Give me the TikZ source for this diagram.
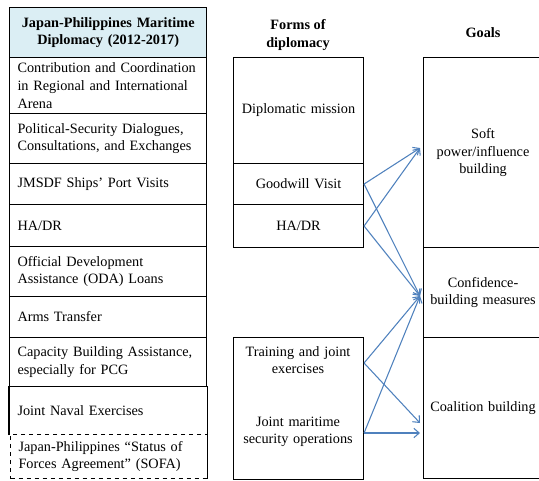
\documentclass[tikz,border=0pt]{standalone}
\usepackage{fontspec}
\setmainfont{Liberation Serif}
\usepackage{tikz}
\usetikzlibrary{calc,arrows.meta}

\definecolor{headblue}{RGB}{219,238,244}
\definecolor{arrowblue}{RGB}{79,129,189}
\newcommand{\px}{0.75pt}
\newcommand{\tabfont}{\fontsize{10.7}{13.2}\selectfont}

\tikzset{
  lcell/.style={draw, anchor=north west, minimum width=197*\px, text width=136pt,
    inner xsep=6pt, inner ysep=0pt, align=left, font=\tabfont},
  mcell/.style={draw, anchor=north west, minimum width=130*\px, text width=90pt,
    inner sep=0pt, align=center, font=\tabfont},
  gcell/.style={draw, anchor=north west, minimum width=119*\px, text width=84pt,
    inner sep=0pt, align=center, font=\tabfont},
  head/.style={align=center, font=\tabfont\bfseries, inner sep=0pt},
  link/.style={-{Straight Barb[length=4pt,width=7pt]}, draw=arrowblue, line width=0.8pt}
}

\begin{document}
\begin{tikzpicture}[x=\px, y=-\px, line width=0.8pt]
\useasboundingbox (0,0) rectangle (539,480);

% linka tabela
\node[lcell, fill=headblue, minimum height=50*\px, align=center, font=\tabfont\bfseries] (jpmd) at (9,7)
  {Japan-Philippines Maritime\\Diplomacy (2012-2017)};
\node[lcell, minimum height=56*\px] (contrib) at (9,57)
  {Contribution and Coordination\\in Regional and International\\Arena};
\node[lcell, minimum height=50*\px] (polsec) at (9,113)
  {Political-Security Dialogues,\\Consultations, and Exchanges};
\node[lcell, minimum height=41*\px] (jmsdf) at (9,163) {JMSDF Ships’ Port Visits};
\node[lcell, minimum height=42*\px] (hadrl) at (9,204) {HA/DR};
\node[lcell, minimum height=50*\px] (oda) at (9,246)
  {Official Development\\Assistance (ODA) Loans};
\node[lcell, minimum height=41*\px] (arms) at (9,296) {Arms Transfer};
\node[lcell, minimum height=49*\px] (capac) at (9,337)
  {Capacity Building Assistance,\\especially for PCG};
\node[lcell, draw=none, minimum height=48*\px] (naval) at (9,386) {Joint Naval Exercises};
\node[lcell, dashed, minimum width=194*\px, minimum height=44*\px] (sofa) at (10,434)
  {Japan-Philippines “Status of\\Forces Agreement” (SOFA)};
\draw (naval.south west) -- (naval.north west);
\draw (naval.north east) -- (naval.north east |- sofa.south);

% srednji stolpec
\node[head] (formshd) at (298,35) {Forms of\\diplomacy};
\node[mcell, minimum height=106*\px] (diplo) at (233,57) {Diplomatic mission};
\node[mcell, minimum height=41*\px] (goodwill) at (233,163) {Goodwill Visit};
\node[mcell, minimum height=43*\px] (hadrm) at (233,204) {HA/DR};
\node[mcell, minimum height=142*\px] (lowbox) at (233,337) {};
\node[font=\tabfont, align=center, text width=90pt, inner sep=0pt] (training) at (298,360)
  {Training and joint\\exercises};
\node[font=\tabfont, align=center, text width=90pt, inner sep=0pt] (jointop) at (298,432)
  {Joint maritime\\security operations};

% cilji
\node[head] (goalshd) at (483,33) {Goals};
\node[gcell, minimum height=190*\px] (soft) at (423,57) {Soft\\power/influence\\building};
\node[gcell, minimum height=90*\px] (confid) at (423,247) {Confidence-\\building measures};
\node[gcell, minimum height=141*\px] (coal) at (423,337) {Coalition building};

% pomozne tocke
\coordinate (trainout) at (lowbox.east |- 0,363);
\coordinate (jointout) at (lowbox.east |- 0,433);
\coordinate (softin) at (420,148);
\coordinate (confin) at (420,296);
\coordinate (coalin1) at (420,423);
\coordinate (coalin2) at (420,433);

\foreach \from/\to in {goodwill.east/softin, goodwill.east/confin,
  hadrm.east/softin, hadrm.east/confin,
  trainout/confin, trainout/coalin1,
  jointout/confin, jointout/coalin2}
\draw[link] (\from) -- (\to);
\end{tikzpicture}
\end{document}
